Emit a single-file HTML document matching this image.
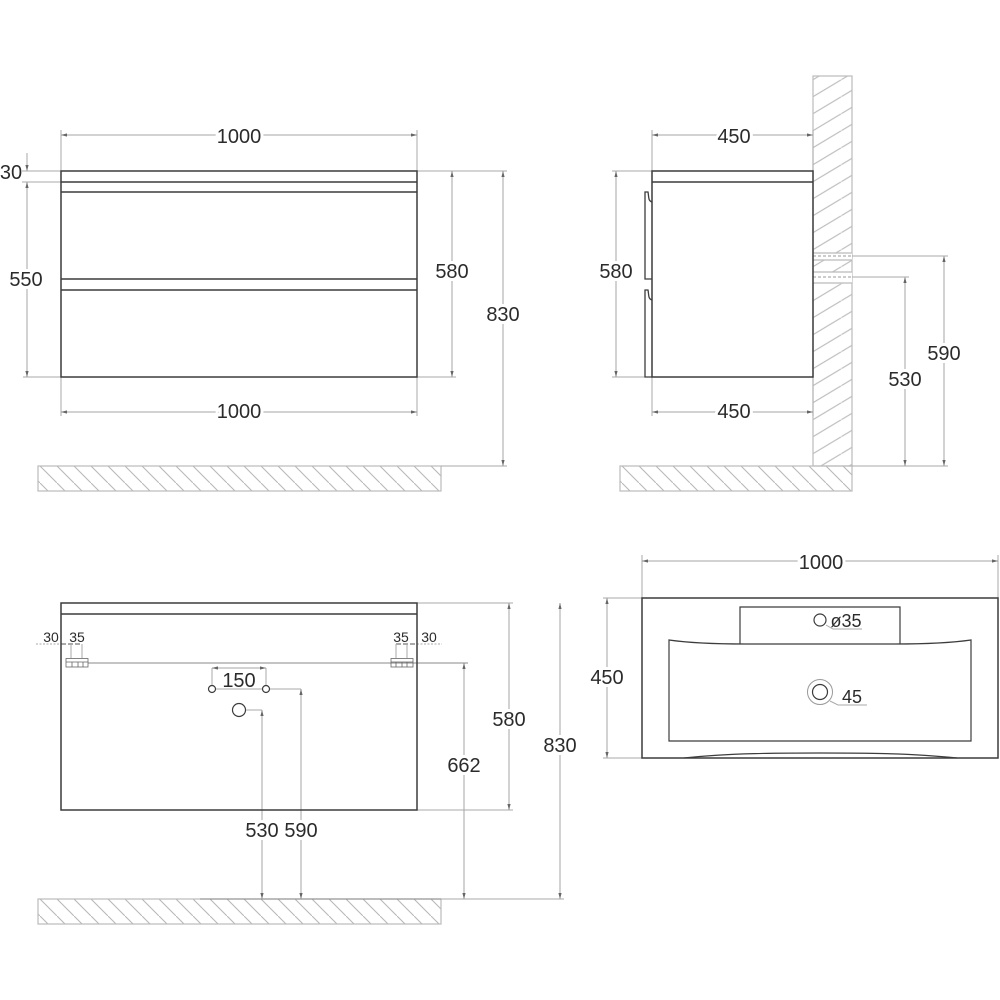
<!DOCTYPE html>
<html>
<head>
<meta charset="utf-8">
<style>
html,body{margin:0;padding:0;background:#fff}
svg{display:block}
text{font-family:"Liberation Sans",sans-serif;font-size:20px;fill:#2b2b2b;text-anchor:middle;dominant-baseline:central;transform:translate(0,1px)}
.b text,text.b{paint-order:stroke;stroke:#fff;stroke-width:6px}
.s{font-size:14px}
.d{stroke:#aaa;stroke-width:1;fill:none}
.da{stroke:#a4a4a4;stroke-width:1;fill:none;marker-start:url(#a);marker-end:url(#a)}
.k{stroke:#3c3c3c;stroke-width:1.5;fill:none}
.f{stroke:#bbb;stroke-width:1.2}
</style>
</head>
<body>
<svg width="1000" height="1000" viewBox="0 0 1000 1000" xmlns="http://www.w3.org/2000/svg">
<defs>
<marker id="a" viewBox="0 0 6 4" refX="6" refY="2" markerWidth="6" markerHeight="4" markerUnits="userSpaceOnUse" orient="auto-start-reverse">
<path d="M6 2L0 0.4V3.6Z" fill="#666"/>
</marker>
<pattern id="fl" patternUnits="userSpaceOnUse" x="40" y="466" width="17" height="17">
<path d="M0 0L17 17" stroke="#b8b8b8" stroke-width="1.1"/>
</pattern>
<pattern id="fl2" patternUnits="userSpaceOnUse" x="639" y="466" width="17" height="17">
<path d="M0 0L17 17" stroke="#b8b8b8" stroke-width="1.1"/>
</pattern>
<pattern id="fl3" patternUnits="userSpaceOnUse" x="40" y="899" width="17" height="17">
<path d="M0 0L17 17" stroke="#b8b8b8" stroke-width="1.1"/>
</pattern>
<pattern id="wl" patternUnits="userSpaceOnUse" x="813" y="79.700" width="28.33" height="17">
<path d="M0 17L28.33 0" stroke="#b8b8b8" stroke-width="1.1"/>
</pattern>
</defs>
<rect width="1000" height="1000" fill="#fff"/>

<!-- floors -->
<rect x="38" y="466" width="403" height="25" fill="url(#fl)" class="f"/>
<rect x="620" y="466" width="232" height="25" fill="url(#fl2)" class="f"/>
<rect x="38" y="899" width="403" height="25" fill="url(#fl3)" class="f"/>
<path d="M200 899H441M813 466H852" stroke="#888" stroke-width="1" fill="none"/>

<!-- wall -->
<rect x="813" y="76" width="39" height="390" fill="url(#wl)" class="f"/>
<rect x="813" y="253" width="39" height="7" fill="#fff"/>
<rect x="813" y="272" width="39" height="11" fill="#fff"/>
<path class="f" d="M813 253H852M813 260H852M813 272H852M813 283H852" stroke-width="1" fill="none"/>

<!-- FRONT -->
<path class="d" d="M61 130V171M417 130V171M61 377V416M417 377V416M22 171H61M22 182H61M23 377H61M417 171H507M417 377H456M441 466H507"/>
<path class="da" d="M61 135H417"/>
<path class="da" d="M61 412H417"/>
<path class="da" d="M452 171V377"/>
<path class="da" d="M503 171V466"/>
<path class="da" d="M27 182V377"/>
<path class="d" d="M27 153V171" style="marker-end:url(#a)"/>
<g class="k">
<rect x="61" y="171" width="356" height="206"/>
<path d="M61 182H417M61 192H417M61 279H417M61 290H417"/>
</g>
<g class="b">
<text x="239" y="136">1000</text>
<text x="239" y="411">1000</text>
<text x="452" y="271">580</text>
<text x="503" y="314">830</text>
<text x="26" y="279">550</text>
</g>
<text x="11" y="172">30</text>

<!-- SIDE -->
<path class="d" d="M652 130V171M813 130V171M652 377V416M813 377V416M612 171H652M612 377H645M852 466H948"/>
<path class="da" d="M652 135H813"/>
<path class="da" d="M652 412H813"/>
<path class="da" d="M616 171V377"/>
<path class="da" d="M944 256V466"/>
<path class="da" d="M905 277V466"/>
<path d="M813 256H852M813 277H852" stroke="#999" stroke-width="1" stroke-dasharray="3 2" fill="none"/>
<path class="d" d="M852 256H948M852 277H909"/>
<g class="k">
<rect x="652" y="171" width="161" height="206"/>
<path d="M652 182H813"/>
<path d="M652 279H645V192H648C649 197 648 201 652 202" stroke-width="1.3"/>
<path d="M652 377H645V290H648C649 295 648 299 652 300" stroke-width="1.3"/>
</g>
<g class="b">
<text x="734" y="136">450</text>
<text x="734" y="411">450</text>
<text x="616" y="271">580</text>
<text x="944" y="353">590</text>
<text x="905" y="379">530</text>
</g>

<!-- BACK -->
<path class="d" d="M417 603H513M417 810H513M441 899H564M212 668V685M266 668V685M216 689H262M270 689H301M246 710H262"/>
<path class="da" d="M509 603V810"/>
<path class="da" d="M560 603V899"/>
<path class="da" d="M464 663V899"/>
<path class="da" d="M212 668H266"/>
<path class="da" d="M301 689V899"/>
<path class="da" d="M262 710V899"/>
<path d="M36 644H61M417 644H442" stroke="#aaa" stroke-width="1" stroke-dasharray="2 1.500" fill="none"/>
<path d="M61 644H82M396 644H417" stroke="#555" stroke-width="1" stroke-dasharray="5 2" fill="none"/>
<path class="d" d="M71 644V658M82 644V658M396 644V658M407 644V658"/>
<path d="M88 663H468" stroke="#888" stroke-width="1" fill="none"/>
<g class="k">
<rect x="61" y="603" width="356" height="207"/>
<path d="M61 614H417"/>
<circle cx="212" cy="689" r="3.500" stroke-width="1.200"/>
<circle cx="266" cy="689" r="3.500" stroke-width="1.200"/>
<circle cx="239" cy="710" r="6.500" stroke-width="1.200"/>
</g>
<g stroke="#666" stroke-width="0.800" fill="none">
<rect x="66" y="658.500" width="22" height="8.500"/>
<rect x="391" y="658.500" width="22" height="8.500"/>
<path d="M66 662H88M391 662H413M72 662V667M78 662V667M83 662V667M396 662V667M402 662V667M407 662V667"/>
</g>
<text class="s" x="51" y="636">30</text>
<text class="s" x="77" y="636">35</text>
<text class="s" x="401" y="636">35</text>
<text class="s" x="429" y="636">30</text>
<g class="b">
<text x="239" y="680" style="stroke-width:2px">150</text>
<text x="509" y="719">580</text>
<text x="560" y="745">830</text>
<text x="464" y="765">662</text>
<text x="262" y="830">530</text>
<text x="301" y="830">590</text>
</g>

<!-- TOP -->
<path class="d" d="M642 555V598M998 555V598M603 598H642M603 758H642"/>
<path class="da" d="M642 561H998"/>
<path class="da" d="M607 598V758"/>
<g class="k">
<rect x="642" y="598" width="356" height="160"/>
<path d="M669 640C690 643 720 644 745 644H895C920 644 950 643 971 640V741H669Z" stroke-width="1.200"/>
<path d="M740 644V607H900V644" stroke-width="1.200"/>
<circle cx="820" cy="620" r="6" stroke-width="1.200"/>
<circle cx="820" cy="692" r="7.500" stroke-width="1.200"/>
<path d="M684 758C730 753 780 753 820 753C860 753 910 753 957 758" stroke-width="1.200"/>
</g>
<circle cx="820" cy="692" r="12.500" fill="none" stroke="#999" stroke-width="1"/>
<path class="d" d="M826 625L833 629H862M830 701L838 705H867"/>
<g class="b">
<text x="821" y="562">1000</text>
<text x="607" y="677">450</text>
</g>
<text x="846" y="620" style="font-size:18px">ø35</text>
<text x="852" y="696" style="font-size:18px">45</text>
</svg>
</body>
</html>
